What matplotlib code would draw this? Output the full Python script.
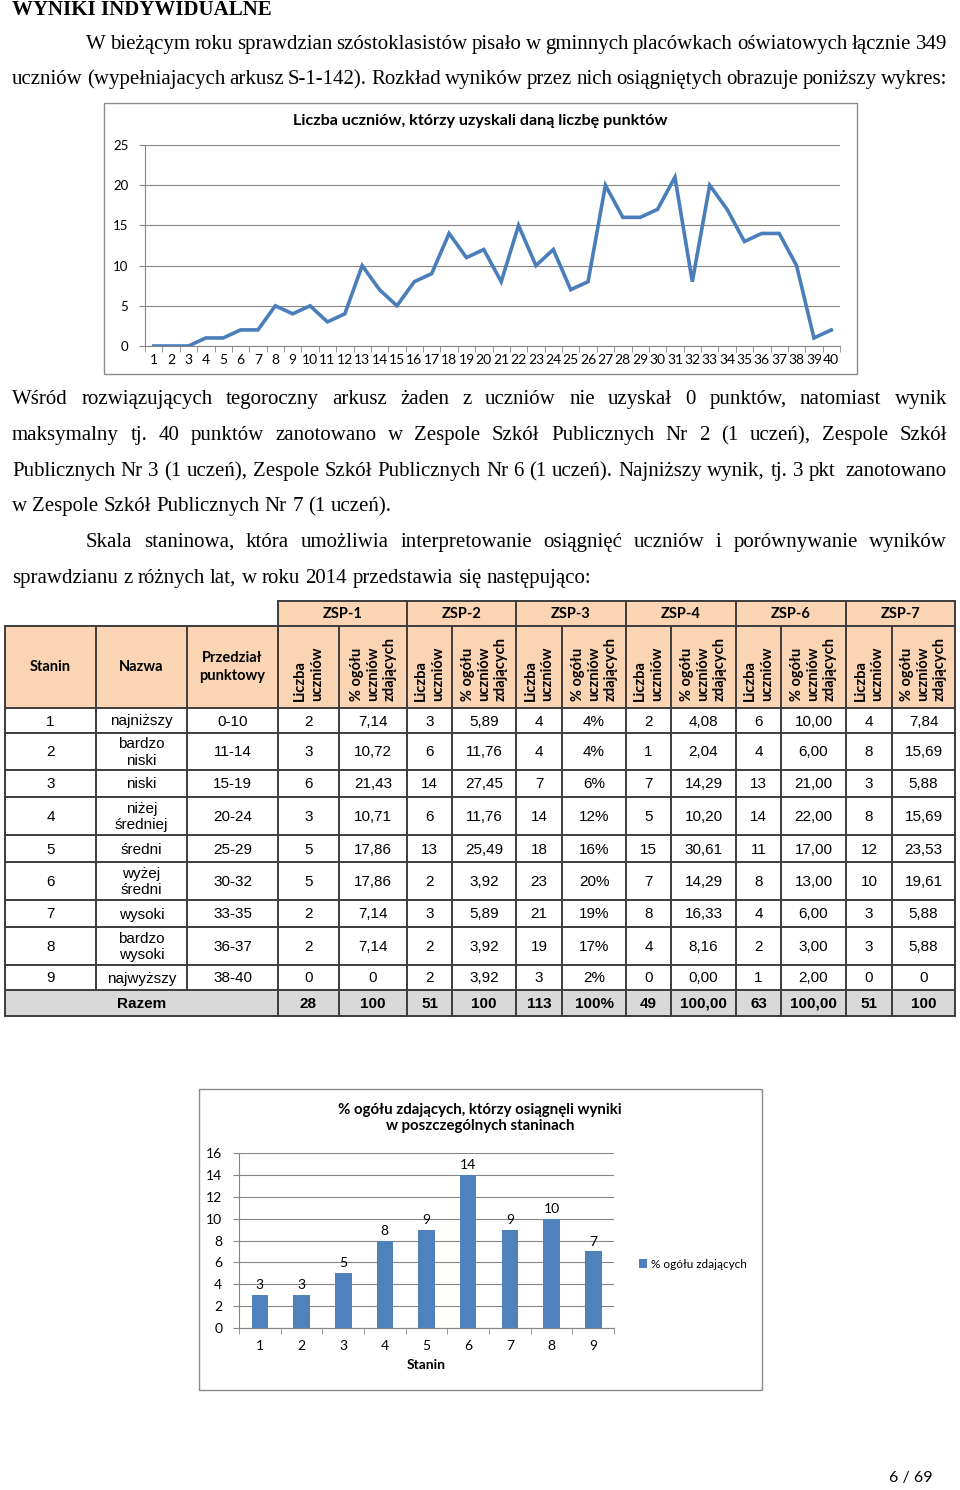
import matplotlib
matplotlib.use('Agg')
import matplotlib.pyplot as plt
from matplotlib.patches import Rectangle

# ---------------- data ----------------
points = list(range(1, 41))
students = [0, 0, 0, 1, 1, 2, 2, 5, 4, 5, 3, 4, 10, 7, 5, 8, 9, 14, 11, 12,
            8, 15, 10, 12, 7, 8, 20, 16, 16, 17, 21, 8, 20, 17, 13, 14, 14, 10, 1, 2]

stanin = ['1', '2', '3', '4', '5', '6', '7', '8', '9']
nazwa = ['najniższy', 'bardzo\nniski', 'niski', 'niżej\nśredniej', 'średni',
         'wyżej\nśredni', 'wysoki', 'bardzo\nwysoki', 'najwyższy']
przedzial = ['0-10', '11-14', '15-19', '20-24', '25-29', '30-32', '33-35', '36-37', '38-40']
schools = ['ZSP-1', 'ZSP-2', 'ZSP-3', 'ZSP-4', 'ZSP-6', 'ZSP-7']
zsp1_n = ['2', '3', '6', '3', '5', '5', '2', '2', '0']
zsp1_p = ['7,14', '10,72', '21,43', '10,71', '17,86', '17,86', '7,14', '7,14', '0']
zsp2_n = ['3', '6', '14', '6', '13', '2', '3', '2', '2']
zsp2_p = ['5,89', '11,76', '27,45', '11,76', '25,49', '3,92', '5,89', '3,92', '3,92']
zsp3_n = ['4', '4', '7', '14', '18', '23', '21', '19', '3']
zsp3_p = ['4%', '4%', '6%', '12%', '16%', '20%', '19%', '17%', '2%']
zsp4_n = ['2', '1', '7', '5', '15', '7', '8', '4', '0']
zsp4_p = ['4,08', '2,04', '14,29', '10,20', '30,61', '14,29', '16,33', '8,16', '0,00']
zsp6_n = ['6', '4', '13', '14', '11', '8', '4', '2', '1']
zsp6_p = ['10,00', '6,00', '21,00', '22,00', '17,00', '13,00', '6,00', '3,00', '2,00']
zsp7_n = ['4', '8', '3', '8', '12', '10', '3', '3', '0']
zsp7_p = ['7,84', '15,69', '5,88', '15,69', '23,53', '19,61', '5,88', '5,88', '0']
razem = ['28', '100', '51', '100', '113', '100%', '49', '100,00', '63', '100,00', '51', '100']

bar_stanin = ['1', '2', '3', '4', '5', '6', '7', '8', '9']
bar_pct = [3, 3, 5, 8, 9, 14, 9, 10, 7]

# ---------------- figure ----------------
W, H = 960, 1490
fig = plt.figure(figsize=(W / 100, H / 100), dpi=100)
fig.patch.set_facecolor('white')
bg = fig.add_axes([0, 0, 1, 1])
bg.set_xlim(0, W)
bg.set_ylim(H, 0)
bg.axis('off')
renderer = fig.canvas.get_renderer()

SERIF = 'Liberation Serif'
ARIAL = 'Liberation Sans'
CAL = ['Lato', 'DejaVu Sans']
BODY = 15


def ax_px(x0, y0, x1, y1):
    return fig.add_axes([x0 / W, 1 - y1 / H, (x1 - x0) / W, (y1 - y0) / H])


def text_line(txt, x0, x1, y, justify=True, size=BODY):
    words = txt.split(' ')
    objs = [bg.text(0, y, w, ha='left', va='baseline', family=SERIF,
                    fontsize=size, color='black') for w in words]
    widths = [o.get_window_extent(renderer).width for o in objs]
    if justify and len(words) > 1:
        gap = (x1 - x0 - sum(widths)) / (len(words) - 1)
    else:
        gap = size * 100 / 72 * 0.25
    x = x0
    for o, w in zip(objs, widths):
        o.set_x(x)
        x += w + gap


# heading
bg.text(12, 15, 'WYNIKI INDYWIDUALNE', family=SERIF, fontsize=15,
        fontweight='bold', ha='left', va='baseline')

L, R = 12, 947
text_line('W bieżącym roku sprawdzian szóstoklasistów pisało w gminnych placówkach oświatowych łącznie 349', 86, R, 49)
text_line('uczniów (wypełniajacych arkusz S-1-142). Rozkład wyników przez nich osiągniętych obrazuje poniższy wykres:', L, R, 84)

text_line('Wśród rozwiązujących tegoroczny arkusz żaden z uczniów nie uzyskał 0 punktów, natomiast wynik', L, R, 404)
text_line('maksymalny tj. 40 punktów zanotowano w Zespole Szkół Publicznych Nr 2 (1 uczeń), Zespole Szkół', L, R, 440)
text_line('Publicznych Nr 3 (1 uczeń), Zespole Szkół Publicznych Nr 6 (1 uczeń). Najniższy wynik, tj. 3 pkt  zanotowano', L, R, 476)
text_line('w Zespole Szkół Publicznych Nr 7 (1 uczeń).', L, R, 511, justify=False)
text_line('Skala staninowa, która umożliwia interpretowanie osiągnięć uczniów i porównywanie wyników', 86, R, 547)
text_line('sprawdzianu z różnych lat, w roku 2014 przedstawia się następująco:', L, R, 583, justify=False)

# ---------------- line chart ----------------
GRID = '#868686'
BLUE = '#4A7EBB'
bg.add_patch(Rectangle((104, 103), 753, 271, fill=False, edgecolor='#8c8c8c', lw=1.0))
bg.text(480, 121, 'Liczba uczniów, którzy uzyskali daną liczbę punktów', family=CAL,
        fontsize=11.6, fontweight='bold', ha='center', va='center')
ax1 = ax_px(145, 145, 840, 346)
ax1.plot(points, students, color=BLUE, lw=2.6, solid_joinstyle='miter')
ax1.set_xlim(0.5, 40.5)
ax1.set_ylim(0, 25)
ax1.set_yticks([0, 5, 10, 15, 20, 25])
ax1.set_xticks(points)
ax1.set_xticks([p + 0.5 for p in [0] + points], minor=True)
ax1.tick_params(axis='x', which='major', length=0, pad=6, labelsize=10)
ax1.tick_params(axis='x', which='minor', length=4, color=GRID)
ax1.tick_params(axis='y', length=4, color=GRID, labelsize=9.5, pad=8)
for lab in ax1.get_xticklabels() + ax1.get_yticklabels():
    lab.set_family(CAL)
ax1.grid(axis='y', color=GRID, lw=0.8)
ax1.set_axisbelow(True)
for s in ['top', 'right']:
    ax1.spines[s].set_visible(False)
for s in ['left', 'bottom']:
    ax1.spines[s].set_color(GRID)

# ---------------- table ----------------
cols = [5, 96, 187, 278, 339, 407, 452, 516, 562, 626, 671, 736, 781, 846, 892, 955]
rows = [708, 733, 770, 797, 835, 862, 900, 927, 965, 990, 1016]
H1, H2 = 601, 626
PEACH = '#FBD4B4'
LC = '#3c3c3c'
LW = 1.4

bg.add_patch(Rectangle((cols[3], H1), cols[-1] - cols[3], H2 - H1, facecolor=PEACH, edgecolor='none'))
bg.add_patch(Rectangle((cols[0], H2), cols[-1] - cols[0], rows[0] - H2, facecolor=PEACH, edgecolor='none'))
bg.add_patch(Rectangle((cols[0], rows[-2]), cols[-1] - cols[0], rows[-1] - rows[-2], facecolor='#D9D9D9', edgecolor='none'))

bg.plot([cols[3], cols[-1]], [H1, H1], color=LC, lw=LW)
bg.plot([cols[0], cols[-1]], [H2, H2], color=LC, lw=LW)
for y in rows:
    bg.plot([cols[0], cols[-1]], [y, y], color=LC, lw=LW)
for i in range(3, len(cols), 2):
    bg.plot([cols[i], cols[i]], [H1, H2], color=LC, lw=LW)
for x in cols:
    bg.plot([x, x], [H2, rows[-2]], color=LC, lw=LW)
for x in [cols[0]] + cols[3:]:
    bg.plot([x, x], [rows[-2], rows[-1]], color=LC, lw=LW)

for k, s in enumerate(schools):
    xc = (cols[3 + 2 * k] + cols[5 + 2 * k]) / 2
    bg.text(xc, (H1 + H2) / 2 + 1, s, family=CAL, fontsize=10.5, fontweight='bold',
            ha='center', va='center')
hy = (H2 + rows[0]) / 2
for i, s in enumerate(['Stanin', 'Nazwa', 'Przedział\npunktowy']):
    bg.text((cols[i] + cols[i + 1]) / 2, hy, s, family=CAL, fontsize=10.5,
            fontweight='bold', ha='center', va='center', linespacing=1.3)
for k in range(6):
    c1 = (cols[3 + 2 * k] + cols[4 + 2 * k]) / 2
    c2 = (cols[4 + 2 * k] + cols[5 + 2 * k]) / 2
    bg.text(c1, rows[0] - 7, 'Liczba\nuczniów', family=CAL, fontsize=10.5,
            fontweight='bold', rotation=90, ha='center', va='bottom',
            multialignment='left', linespacing=1.25)
    bg.text(c2, rows[0] - 7, '% ogółu\nuczniów\nzdających', family=CAL, fontsize=10.5,
            fontweight='bold', rotation=90, ha='center', va='bottom',
            multialignment='left', linespacing=1.2)

columns = [stanin, nazwa, przedzial, zsp1_n, zsp1_p, zsp2_n, zsp2_p, zsp3_n, zsp3_p,
           zsp4_n, zsp4_p, zsp6_n, zsp6_p, zsp7_n, zsp7_p]
for r in range(9):
    yc = (rows[r] + rows[r + 1]) / 2
    for c, vals in enumerate(columns):
        bg.text((cols[c] + cols[c + 1]) / 2, yc + 1, vals[r], family=ARIAL, fontsize=11,
                ha='center', va='center', linespacing=1.25)
yc = (rows[-2] + rows[-1]) / 2
bg.text((cols[0] + cols[3]) / 2, yc + 1, 'Razem', family=ARIAL, fontsize=11,
        fontweight='bold', ha='center', va='center')
for c, v in enumerate(razem):
    bg.text((cols[3 + c] + cols[4 + c]) / 2, yc + 1, v, family=ARIAL, fontsize=11,
            fontweight='bold', ha='center', va='center')

# ---------------- bar chart ----------------
BARC = '#4F81BD'
bg.add_patch(Rectangle((199, 1089), 563, 301, fill=False, edgecolor='#8c8c8c', lw=1.0))
bg.text(480, 1118, '% ogółu zdających, którzy osiągnęli wyniki\nw poszczególnych staninach',
        family=CAL, fontsize=10.8, fontweight='bold', ha='center', va='center', linespacing=1.2)
ax2 = ax_px(239, 1153, 614, 1328)
xs = list(range(1, len(bar_pct) + 1))
ax2.bar(xs, bar_pct, width=0.4, color=BARC, label='% ogółu zdających', zorder=3)
for x, v in zip(xs, bar_pct):
    ax2.text(x, v + 0.35, str(v), ha='center', va='bottom', family=CAL, fontsize=10)
ax2.set_xlim(0.5, len(bar_pct) + 0.5)
ax2.set_ylim(0, 16)
ax2.set_yticks(range(0, 17, 2))
ax2.set_xticks(xs)
ax2.set_xticklabels(bar_stanin)
ax2.set_xticks([x + 0.5 for x in [0] + xs], minor=True)
ax2.tick_params(axis='x', which='major', length=0, pad=9, labelsize=10)
ax2.tick_params(axis='x', which='minor', length=4, color=GRID)
ax2.tick_params(axis='y', length=4, color=GRID, labelsize=10, pad=8)
for lab in ax2.get_xticklabels() + ax2.get_yticklabels():
    lab.set_family(CAL)
ax2.grid(axis='y', color=GRID, lw=0.8, zorder=0)
ax2.set_axisbelow(True)
for s in ['top', 'right']:
    ax2.spines[s].set_visible(False)
for s in ['left', 'bottom']:
    ax2.spines[s].set_color(GRID)
ax2.set_xlabel('Stanin', family=CAL, fontsize=10, fontweight='bold', labelpad=5)
ax2.legend(loc='center left', bbox_to_anchor=(634 / W, 1 - 1264 / H),
           bbox_transform=fig.transFigure, frameon=False, handlelength=0.7,
           handleheight=0.7, handletextpad=0.3, borderaxespad=0,
           prop={'family': CAL, 'size': 8.5})

bg.text(911, 1478, '6 / 69', family=CAL, fontsize=11.5, ha='center', va='center')

fig.savefig('out.png', dpi=100, facecolor='white')
